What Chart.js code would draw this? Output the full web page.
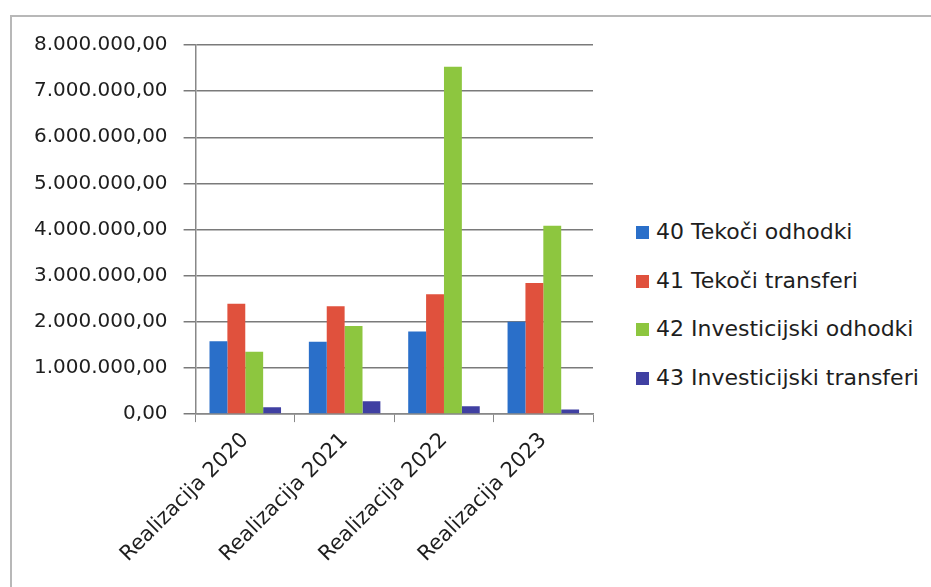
<!DOCTYPE html>
<html>
<head>
<meta charset="utf-8">
<script src="https://cdn.jsdelivr.net/npm/chart.js@4"></script>
<style>
  html, body { margin: 0; padding: 0; background: #fff; }
  body { width: 931px; height: 587px; position: relative; overflow: hidden; font-family: "DejaVu Sans", sans-serif; }
  .frame {
    position: absolute; left: 10px; top: 15px; width: 940px; height: 600px;
    border-left: 2px solid #b8b8b8; border-top: 2px solid #b8b8b8;
  }
  #wrap { position: absolute; left: 0; top: 0; width: 600px; height: 587px; }
  #legenda { position: absolute; left: 636px; top: 219px; margin: 0; padding: 0; list-style: none; }
  #legenda li { height: 48.7px; display: flex; align-items: flex-start; font-size: 22px; color: #1e1e1e; white-space: nowrap; }
  #legenda span.kv { width: 13px; height: 13px; margin: 7px 7px 0 0; display: inline-block; }
</style>
</head>
<body>
<div class="frame"></div>
<div id="wrap"><canvas id="chartOdhodki"></canvas></div>
<ul id="legenda"></ul>
<script>
// PODATKI
const kategorije = ["Realizacija 2020", "Realizacija 2021", "Realizacija 2022", "Realizacija 2023"];
const tekociOdhodki = [1580000, 1570000, 1790000, 2000000];
const tekociTransferi = [2390000, 2340000, 2600000, 2840000];
const investicijskiOdhodki = [1350000, 1910000, 7530000, 4080000];
const investicijskiTransferi = [150000, 280000, 170000, 100000];
const oznakeSerij = ["40 Tekoči odhodki", "41 Tekoči transferi", "42 Investicijski odhodki", "43 Investicijski transferi"];
const barve = ["#2a6fc9", "#e0513d", "#8dc63f", "#4040a2"];

/**
 * Zapis števila kot 8.000.000,00
 */
function formatiraj(v) {
  let cel = Math.round(v).toString().replace(/\B(?=(\d{3})+(?!\d))/g, ".");
  return cel + ",00";
}

const podatki = [tekociOdhodki, tekociTransferi, investicijskiOdhodki, investicijskiTransferi];

// LEGENDA (desno, kot v Excelu)
const legenda = document.getElementById("legenda");
oznakeSerij.forEach((ime, i) => {
  const li = document.createElement("li");
  const kv = document.createElement("span");
  kv.className = "kv";
  kv.style.background = barve[i];
  li.appendChild(kv);
  li.appendChild(document.createTextNode(ime));
  legenda.appendChild(li);
});

document.addEventListener("DOMContentLoaded", function () {
  const ctx = document.getElementById("chartOdhodki").getContext("2d");

  new Chart(ctx, {
    type: "bar",
    data: {
      labels: kategorije,
      datasets: podatki.map((d, i) => ({
        label: oznakeSerij[i],
        data: d,
        backgroundColor: barve[i],
        categoryPercentage: 0.72,
        barPercentage: 1.0,
      })),
    },
    options: {
      responsive: true,
      maintainAspectRatio: false,
      animation: false,
      layout: { padding: { left: 18, top: 45, right: 7, bottom: 14 } },
      plugins: {
        tooltip: { enabled: false },
        legend: { display: false },
      },
      scales: {
        x: {
          grid: { display: true, drawOnChartArea: false, color: "#888", tickLength: 8 },
          border: { color: "#888", width: 1.5 },
          ticks: {
            color: "#1e1e1e",
            font: { family: "'DejaVu Sans', sans-serif", size: 21 },
            maxRotation: 45,
            minRotation: 45,
            padding: 6,
          },
        },
        y: {
          min: 0,
          max: 8000000,
          ticks: {
            stepSize: 1000000,
            color: "#1e1e1e",
            font: { family: "'DejaVu Sans', sans-serif", size: 20 },
            padding: 16,
            callback: (v) => formatiraj(v),
          },
          grid: { color: "#7a7a7a", lineWidth: 1.5, tickLength: 12 },
          border: { color: "#888", width: 1.5 },
        },
      },
    },
  });
});
</script>
</body>
</html>
